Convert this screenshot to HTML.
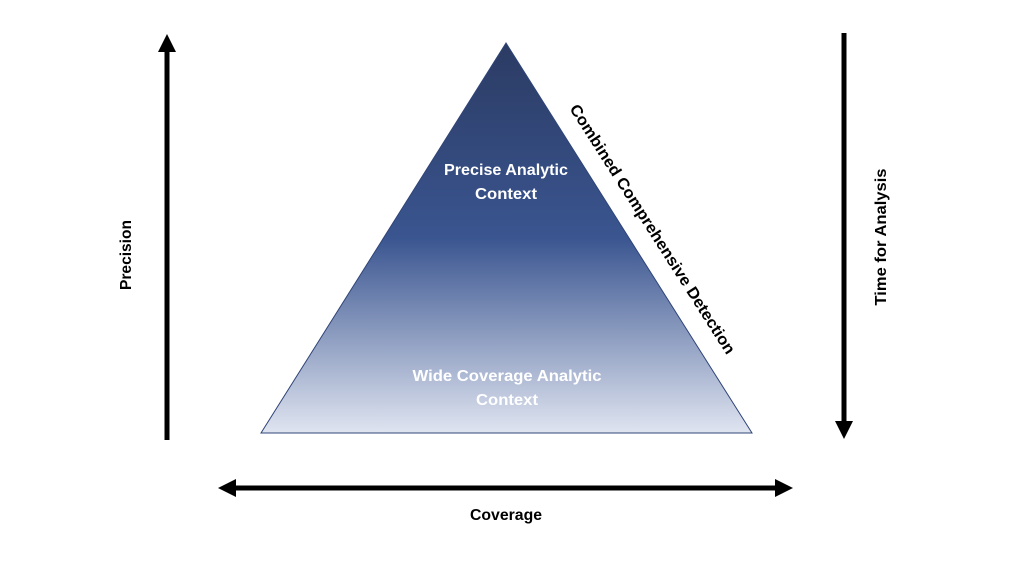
<!DOCTYPE html>
<html><head><style>html,body{margin:0;padding:0;background:#fff}svg{display:block}</style></head>
<body>
<svg width="1024" height="588" viewBox="0 0 1024 588" xmlns="http://www.w3.org/2000/svg" font-family="Liberation Sans, sans-serif" font-weight="bold">
<defs>
<linearGradient id="g" x1="0" y1="43" x2="0" y2="433" gradientUnits="userSpaceOnUse">
<stop offset="0" stop-color="#2b3b63"/>
<stop offset="0.5" stop-color="#3a5590"/>
<stop offset="1" stop-color="#dfe4f0"/>
</linearGradient>
</defs>
<polygon points="506,43 261,433 752,433" fill="url(#g)" stroke="#2f4478" stroke-width="1"/>
<text x="506" y="175" fill="#fff" font-size="16" text-anchor="middle" textLength="124" lengthAdjust="spacingAndGlyphs">Precise Analytic</text>
<text x="506" y="199" fill="#fff" font-size="16" text-anchor="middle" textLength="62" lengthAdjust="spacingAndGlyphs">Context</text>
<text x="507" y="381" fill="#fff" font-size="16" text-anchor="middle" textLength="189" lengthAdjust="spacingAndGlyphs">Wide Coverage Analytic</text>
<text x="507" y="405" fill="#fff" font-size="16" text-anchor="middle" textLength="62" lengthAdjust="spacingAndGlyphs">Context</text>
<text transform="translate(648,232) rotate(57.4)" font-size="16" text-anchor="middle" fill="#000" textLength="293" lengthAdjust="spacingAndGlyphs">Combined Comprehensive Detection</text>
<line x1="167" y1="440" x2="167" y2="50" stroke="#000" stroke-width="5"/>
<polygon points="167,34 158,52 176,52" fill="#000"/>
<line x1="844" y1="33" x2="844" y2="422" stroke="#000" stroke-width="5"/>
<polygon points="844,439 835,421 853,421" fill="#000"/>
<line x1="234" y1="488" x2="777" y2="488" stroke="#000" stroke-width="5"/>
<polygon points="218,488 236,479 236,497" fill="#000"/>
<polygon points="793,488 775,479 775,497" fill="#000"/>
<text x="506" y="520" font-size="16" text-anchor="middle" textLength="72" lengthAdjust="spacingAndGlyphs">Coverage</text>
<text transform="translate(131,255) rotate(-90)" font-size="16" text-anchor="middle" textLength="70" lengthAdjust="spacingAndGlyphs">Precision</text>
<text transform="translate(886,237) rotate(-90)" font-size="16" text-anchor="middle" textLength="137" lengthAdjust="spacingAndGlyphs">Time for Analysis</text>
</svg>
</body></html>
